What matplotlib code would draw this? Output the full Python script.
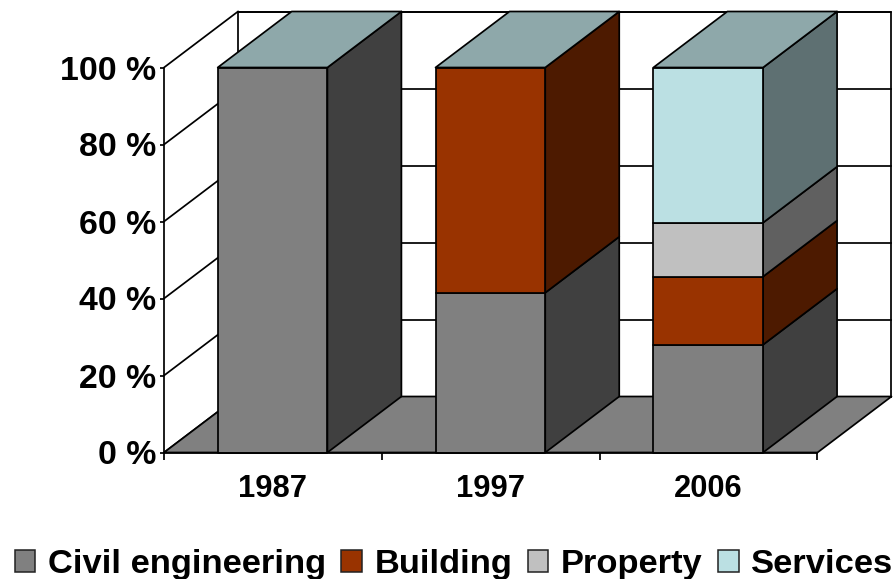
import matplotlib
matplotlib.use("Agg")
import matplotlib.pyplot as plt
from matplotlib.patches import Polygon, Patch

plt.rcParams['font.family'] = ['Liberation Sans', 'DejaVu Sans']
plt.rcParams['font.weight'] = 'bold'

years = ['1987', '1997', '2006']
series_names = ['Civil engineering', 'Building', 'Property', 'Services']
civil = [100, 41.5, 28]
building = [0, 58.5, 17.7]
prop = [0, 0, 14]
services = [0, 0, 40.3]
y_ticks = [0, 20, 40, 60, 80, 100]
y_tick_labels = ['0 %', '20 %', '40 %', '60 %', '80 %', '100 %']

front_colors = ['#808080', '#993300', '#C0C0C0', '#BBE0E3']
side_colors = ['#404040', '#4D1A00', '#606060', '#5E7072']
top_color = '#8EA8AA'

W, H = 895, 579
fig = plt.figure(figsize=(W / 100, H / 100), dpi=100, facecolor='white')
L, R, B, T = 164.0, 817.5, 452.5, 67.5
ax = fig.add_axes([L / W, (H - B) / H, (R - L) / W, (B - T) / H])
ax.set_xlim(0, 3)
ax.set_ylim(0, 100)
ax.patch.set_visible(False)

# depth offset of the pseudo-3D box, in data units
dx = 74 / ((R - L) / 3)
dy = 56 / ((B - T) / 100)
lw = 1.25
ek = dict(edgecolor='black', linewidth=lw, clip_on=False, joinstyle='round')


def poly(pts, fc, z):
    ax.add_patch(Polygon(pts, closed=True, facecolor=fc, zorder=z, **ek))


# back wall and gridlines
poly([(dx, dy), (3 + dx, dy), (3 + dx, 100 + dy), (dx, 100 + dy)], 'white', 1)
for v in y_ticks:
    ax.plot([dx, 3 + dx], [v + dy, v + dy], color='black', lw=lw, clip_on=False, zorder=1.5)
    ax.plot([0, dx], [v, v + dy], color='black', lw=lw, clip_on=False, zorder=1.5)

# floor
poly([(0, 0), (dx, dy), (3 + dx, dy), (3, 0)], '#808080', 2)

# stacked bars
bar_left = 53.7 / ((R - L) / 3)
bar_w = 109.7 / ((R - L) / 3)
stack = [civil, building, prop, services]
for i in range(len(years)):
    x0 = i + bar_left
    x1 = x0 + bar_w
    base = 0
    z = 3 + i
    for s, vals in enumerate(stack):
        v = vals[i]
        if v <= 0:
            continue
        top = base + v
        poly([(x1, base), (x1 + dx, base + dy), (x1 + dx, top + dy), (x1, top)], side_colors[s], z)
        poly([(x0, base), (x1, base), (x1, top), (x0, top)], front_colors[s], z)
        base = top
    poly([(x0, base), (x1, base), (x1 + dx, base + dy), (x0 + dx, base + dy)], top_color, z)

# axes, ticks and labels
for side in ('top', 'right'):
    ax.spines[side].set_visible(False)
for side in ('left', 'bottom'):
    ax.spines[side].set_linewidth(lw)
    ax.spines[side].set_zorder(10)
ax.set_yticks(y_ticks)
ax.set_yticklabels(y_tick_labels, fontsize=24.4, fontweight='bold')
ax.tick_params(axis='y', direction='out', length=3.0, width=lw, pad=2.7)
ax.set_xticks(range(4))
ax.set_xticklabels([])
ax.set_xticks([0.5, 1.5, 2.5], minor=True)
ax.set_xticklabels(years, minor=True, fontsize=22.2, fontweight='bold')
ax.tick_params(axis='x', which='major', direction='out', length=5, width=lw)
ax.tick_params(axis='x', which='minor', length=0, pad=15.5)

handles = [Patch(facecolor=c, edgecolor='#222222', linewidth=1.1) for c in front_colors]
fig.legend(handles, series_names, loc='lower center', bbox_to_anchor=(454 / W, -0.0135),
           ncol=4, frameon=False, handlelength=0.6, handleheight=0.6,
           handletextpad=0.36, columnspacing=0.45, borderpad=0.2, borderaxespad=0,
           prop={'family': 'Liberation Sans', 'weight': 'bold', 'size': 24.8})

fig.savefig('out.png', dpi=100)
